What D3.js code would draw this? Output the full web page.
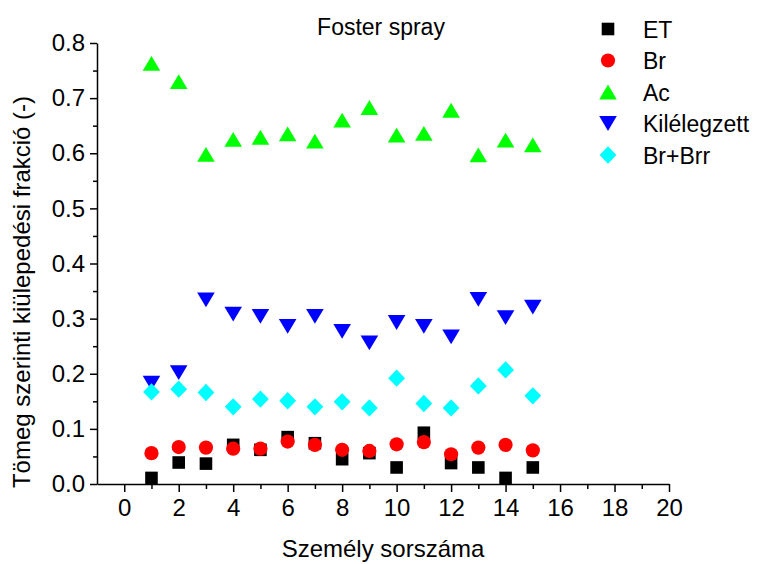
<!DOCTYPE html>
<html>
<head>
<meta charset="utf-8">
<script src="https://cdn.jsdelivr.net/npm/d3@7"></script>
<style>
  body { margin: 0; background: #fff; }
  text { font-family: "Liberation Sans", Arial, sans-serif; fill: #000; }
</style>
</head>
<body>
<div id="chart"></div>
<script>
// person index on the x axis
const persons = [1, 2, 3, 4, 5, 6, 7, 8, 9, 10, 11, 12, 13, 14, 15];

// series values
const etValues = [0.011, 0.039, 0.037, 0.071, 0.062, 0.085, 0.074, 0.045, 0.056, 0.030, 0.093, 0.038, 0.030, 0.011, 0.030];
const brValues = [0.056, 0.067, 0.066, 0.064, 0.064, 0.077, 0.071, 0.062, 0.060, 0.072, 0.076, 0.054, 0.066, 0.071, 0.061];
const acValues = [0.763, 0.730, 0.598, 0.625, 0.629, 0.635, 0.622, 0.660, 0.683, 0.633, 0.636, 0.678, 0.597, 0.624, 0.615];
const kilValues = [0.183, 0.202, 0.334, 0.308, 0.304, 0.286, 0.304, 0.277, 0.256, 0.293, 0.286, 0.267, 0.335, 0.302, 0.321];
const brrValues = [0.167, 0.172, 0.166, 0.140, 0.154, 0.151, 0.140, 0.149, 0.138, 0.192, 0.146, 0.138, 0.178, 0.207, 0.160];

const seriesNames = ["ET", "Br", "Ac", "Kilélegzett", "Br+Brr"];

const xTicks = [0, 2, 4, 6, 8, 10, 12, 14, 16, 18, 20];
const xMinorTicks = [1, 3, 5, 7, 9, 11, 13, 15, 17, 19];
const yTicks = [0, 0.1, 0.2, 0.3, 0.4, 0.5, 0.6, 0.7, 0.8];
const yMinorTicks = [0.05, 0.15, 0.25, 0.35, 0.45, 0.55, 0.65, 0.75];

const width = 759, height = 564;
const margin = { top: 43, right: 90, bottom: 80, left: 97 };

// custom marker shapes, size = half-width in px
const tri = (up) => ({
  draw(ctx, r) {
    const h = r * 0.84;
    const s = up ? 1 : -1;
    ctx.moveTo(0, -s * h);
    ctx.lineTo(r, s * h);
    ctx.lineTo(-r, s * h);
    ctx.closePath();
  }
});
const diamond = {
  draw(ctx, r) {
    ctx.moveTo(0, -r * 1.03);
    ctx.lineTo(r, 0);
    ctx.lineTo(0, r * 1.03);
    ctx.lineTo(-r, 0);
    ctx.closePath();
  }
};
const square = {
  draw(ctx, r) { ctx.rect(-r, -r, 2 * r, 2 * r); }
};
const circle = {
  draw(ctx, r) { ctx.moveTo(r, 0); ctx.arc(0, 0, r, 0, 2 * Math.PI); }
};

const series = [
  { name: seriesNames[0], values: etValues, color: "#000000", type: square, r: 6.3 },
  { name: seriesNames[1], values: brValues, color: "#ff0000", type: circle, r: 7.1 },
  { name: seriesNames[2], values: acValues, color: "#00ff00", type: tri(true), r: 8.8 },
  { name: seriesNames[3], values: kilValues, color: "#0000ff", type: tri(false), r: 8.8 },
  { name: seriesNames[4], values: brrValues, color: "#00ffff", type: diamond, r: 8.4 }
];

const svg = d3.select("#chart").append("svg")
  .attr("width", width)
  .attr("height", height);

const x = d3.scaleLinear().domain([-1, 20]).range([margin.left, width - margin.right]);
const y = d3.scaleLinear().domain([0, 0.8]).range([height - margin.bottom, margin.top]);

// x axis
const xAxis = svg.append("g")
  .attr("transform", `translate(0,${y(0)})`)
  .call(d3.axisBottom(x).tickValues(xTicks).tickSize(8).tickSizeOuter(0).tickPadding(7).tickFormat(d3.format("d")));
svg.append("g")
  .attr("transform", `translate(0,${y(0)})`)
  .call(d3.axisBottom(x).tickValues(xMinorTicks).tickSize(5).tickFormat(""))
  .call(g => g.select(".domain").remove());

// y axis
svg.append("g")
  .attr("transform", `translate(${x(-1)},0)`)
  .call(d3.axisLeft(y).tickValues(yTicks).tickSize(7).tickSizeOuter(0).tickPadding(5).tickFormat(d3.format(".1f")));
svg.append("g")
  .attr("transform", `translate(${x(-1)},0)`)
  .call(d3.axisLeft(y).tickValues(yMinorTicks).tickSize(4).tickFormat(""))
  .call(g => g.select(".domain").remove());

svg.selectAll(".tick text").attr("font-size", 24).attr("font-family", "Liberation Sans, Arial, sans-serif");
svg.selectAll(".domain, .tick line").attr("stroke", "#000").attr("stroke-width", 1.5);

// markers
series.forEach(s => {
  svg.append("g").selectAll("path")
    .data(s.values)
    .join("path")
    .attr("transform", (d, i) => `translate(${x(persons[i])},${y(d)})`)
    .attr("d", d3.symbol().type(s.type).size(s.r))
    .attr("fill", s.color);
});

// title
svg.append("text")
  .attr("x", 381).attr("y", 35)
  .attr("text-anchor", "middle")
  .attr("font-size", 23)
  .text("Foster spray");

// axis titles
svg.append("text")
  .attr("x", (x.range()[0] + x.range()[1]) / 2).attr("y", 557)
  .attr("text-anchor", "middle")
  .attr("font-size", 24)
  .text("Személy sorszáma");

svg.append("text")
  .attr("transform", "translate(30,292) rotate(-90)")
  .attr("text-anchor", "middle")
  .attr("font-size", 24)
  .text("Tömeg szerinti kiülepedési frakció (-)");

// legend
const legend = svg.append("g").selectAll("g")
  .data(series)
  .join("g")
  .attr("transform", (d, i) => `translate(608,${29 + i * 31.5})`);
legend.append("path")
  .attr("d", d => d3.symbol().type(d.type).size(d.r)())
  .attr("fill", d => d.color);
legend.append("text")
  .attr("x", 35).attr("y", 8.5)
  .attr("font-size", 23)
  .text(d => d.name);
</script>
</body>
</html>
